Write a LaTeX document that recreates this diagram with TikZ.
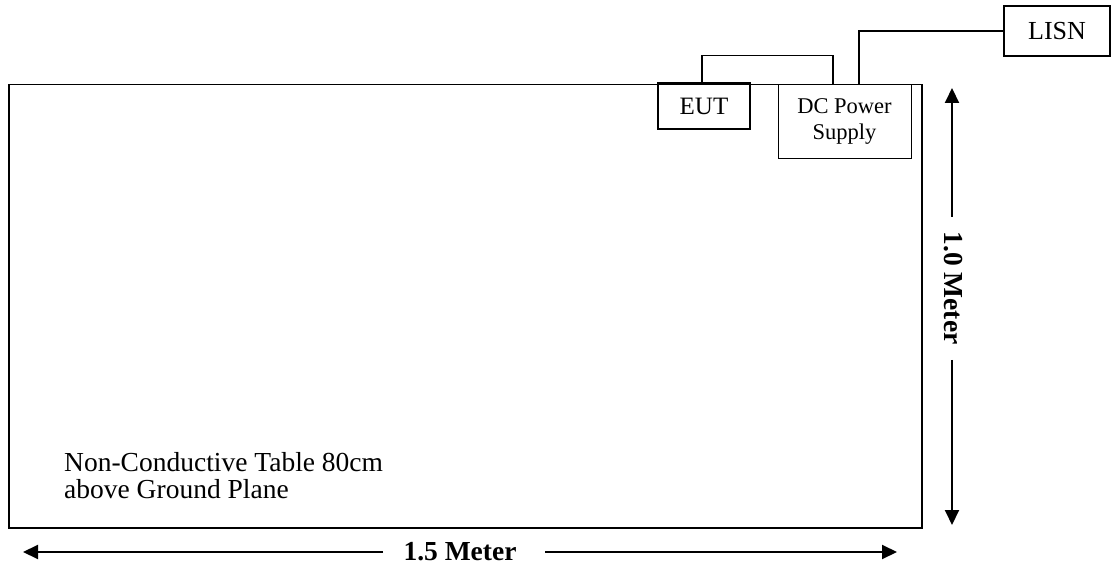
\documentclass[tikz,border=0pt]{standalone}
\usepackage{fontspec}
\setmainfont{Liberation Serif}
\usetikzlibrary{arrows.meta}
\tikzset{
  box/.style={draw, line width=1.3pt, inner sep=0pt, align=center},
  thinbox/.style={draw, line width=0.9pt, inner sep=0pt, align=center},
  wire/.style={line width=1.2pt},
  dimarrow/.style={line width=2pt, -{Triangle[length=15pt,width=14pt]}},
  dimlabel/.style={font=\fontsize{27.5}{30}\selectfont\bfseries, inner sep=0pt}
}
\begin{document}
\begin{tikzpicture}[x=1pt,y=-1pt]
\useasboundingbox (0,0) rectangle (1117,569);
% table
\node[draw, line width=1.5pt, minimum width=913pt, minimum height=443pt, inner sep=0pt, anchor=north west] (table) at (8,84) {};
\node[anchor=base west, align=left, inner sep=0pt, font=\fontsize{27.5}{27}\selectfont] (label) at (64,498) {Non-Conductive Table 80cm\\above Ground Plane};
% devices
\node[box, minimum width=92pt, minimum height=46pt, font=\fontsize{25}{27}\selectfont] (EUT) at (704,106) {EUT};
\node[thinbox, minimum width=133pt, minimum height=74pt, font=\fontsize{22.5}{26}\selectfont] (DC) at (844.5,121) {DC Power\\Supply};
\node[box, minimum width=106pt, minimum height=50pt, font=\fontsize{26}{28}\selectfont] (LISN) at (1057,31) {LISN};
% wires
\draw[wire] ([xshift=-2pt]EUT.north) -- ++(0,-27) -| ([xshift=-11.5pt]DC.north);
\draw[wire] (LISN.west) -| ([xshift=14.5pt]DC.north);
% horizontal dimension
\node[dimlabel] (hl) at (460,552) {1.5 Meter};
\coordinate (hL) at (23,552);
\coordinate (hR) at (897,552);
\coordinate (hga) at (383,552);
\coordinate (hgb) at (545,552);
\draw[dimarrow] (hga) -- (hL);
\draw[dimarrow] (hgb) -- (hR);
% vertical dimension
\node[dimlabel, rotate=-90] (vl) at (953,288) {1.0 Meter};
\coordinate (vT) at (952,88);
\coordinate (vB) at (952,525);
\coordinate (vga) at (952,217);
\coordinate (vgb) at (952,360);
\draw[dimarrow] (vga) -- (vT);
\draw[dimarrow] (vgb) -- (vB);
\end{tikzpicture}
\end{document}
